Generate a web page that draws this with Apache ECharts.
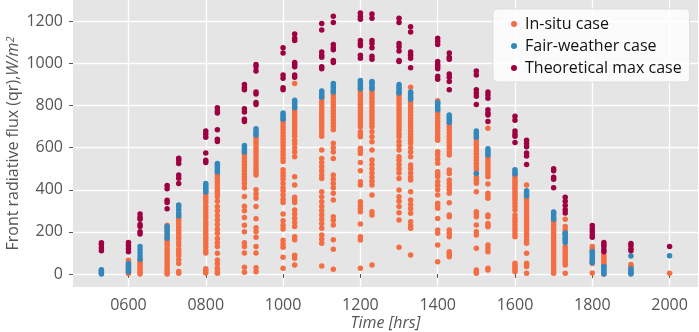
<!DOCTYPE html>
<html>
<head>
<meta charset="utf-8">
<script src="https://cdn.jsdelivr.net/npm/echarts@6/dist/echarts.min.js"></script>
<style>
  html, body { margin: 0; padding: 0; background: #fff; }
  #chart { width: 699px; height: 332px; }
</style>
</head>
<body>
<div id="chart"></div>
<script>
// measurement times (hhmm)
const times = [530, 600, 630, 700, 730, 800, 830, 900, 930, 1000, 1030, 1100, 1130, 1200, 1230,
  1300, 1330, 1400, 1430, 1500, 1530, 1600, 1630, 1700, 1730, 1800, 1830, 1900, 2000];

// one list of flux values (W/m2) per time
const inSitu = [
  [5, 15],
  [2, 10, 20, 30, 42, 55, 65],
  [0, 8, 18, 28, 38, 48, 58, 68],
  [0, 8, 18, 30, 42, 55, 68, 80, 95, 108, 120, 135, 148, 160, 175, 190, 205, 218, 232],
  [3, 12, 50, 68, 88, 102, 118, 138, 152, 168, 180, 195, 208, 222, 238, 252, 265, 280],
  [5, 15, 25, 100, 112, 128, 145, 160, 172, 188, 200, 215, 230, 245, 262, 275, 290, 305, 320, 338, 352, 365, 380, 392],
  [3, 15, 27, 48, 66, 98, 130, 148, 168, 193, 212, 235, 256, 278, 300, 320, 345, 367, 382, 395, 410, 425, 440, 455, 470, 482],
  [8, 32, 100, 130, 148, 200, 232, 268, 300, 322, 368, 410, 430, 447, 460, 475, 490, 505, 520, 535, 550, 565, 578],
  [10, 30, 100, 130, 175, 200, 220, 262, 320, 360, 380, 400, 470, 482, 495, 510, 525, 540, 555, 570, 585, 600, 615, 630, 645, 658],
  [27, 79, 127, 142, 160, 214, 232, 253, 285, 340, 355, 375, 395, 410, 430, 450, 465, 480, 495, 535, 550, 565, 580, 595, 610, 625, 640, 655, 670, 685, 700, 715, 730],
  [42, 75, 89, 162, 177, 225, 245, 265, 285, 304, 340, 350, 364, 423, 462, 557, 580, 600, 620, 636, 655, 670, 685, 700, 715, 730, 745, 760, 775, 790, 905],
  [38, 146, 165, 185, 217, 240, 260, 280, 300, 320, 343, 367, 391, 454, 470, 490, 510, 530, 549, 589, 655, 670, 685, 700, 715, 730, 745, 760, 775, 790, 805, 820, 838],
  [22, 117, 162, 233, 255, 272, 351, 383, 410, 430, 450, 470, 549, 580, 600, 621, 685, 700, 715, 730, 745, 760, 775, 790, 805, 820, 835, 850, 865],
  [27, 161, 177, 237, 296, 310, 325, 343, 423, 438, 491, 530, 573, 585, 597, 652, 664, 676, 700, 715, 730, 745, 760, 775, 790, 805, 820, 835, 850, 865, 880],
  [43, 280, 296, 375, 423, 440, 460, 480, 500, 520, 541, 589, 628, 652, 676, 700, 715, 730, 745, 760, 775, 790, 805, 820, 835, 850, 865, 880],
  [127, 256, 291, 320, 345, 367, 399, 454, 480, 500, 520, 540, 557, 589, 610, 630, 652, 668, 685, 700, 715, 730, 745, 760, 775, 790, 805, 820, 835, 850, 860],
  [90, 217, 230, 248, 288, 310, 330, 351, 391, 446, 460, 480, 500, 518, 557, 580, 600, 621, 636, 650, 665, 680, 695, 710, 725, 740, 755, 770, 785, 800, 815, 830, 887],
  [58, 138, 193, 209, 264, 312, 324, 336, 375, 400, 420, 438, 462, 474, 486, 526, 545, 565, 581, 636, 650, 665, 680, 695, 710, 725, 740, 755, 770, 780, 823],
  [82, 94, 106, 177, 193, 209, 272, 280, 339, 383, 400, 415, 430, 446, 478, 494, 565, 580, 595, 610, 625, 640, 655, 670, 685, 700, 715],
  [3, 10, 19, 122, 185, 201, 233, 272, 284, 296, 391, 431, 445, 460, 478, 495, 510, 525, 540, 555, 570, 585, 600, 615, 630, 645],
  [19, 27, 106, 122, 138, 224, 232, 240, 272, 280, 360, 372, 383, 427, 462, 475, 490, 505, 520, 535, 550, 562, 692],
  [11, 20, 30, 40, 51, 177, 190, 205, 220, 235, 250, 265, 280, 304, 320, 336, 351, 363, 375, 387, 400, 412, 424, 436, 448, 460, 472],
  [3, 35, 43, 51, 98, 146, 160, 174, 188, 202, 216, 230, 244, 258, 272, 286, 300, 314, 328, 342, 356, 368, 423],
  [3, 15, 28, 41, 54, 67, 80, 93, 106, 119, 132, 145, 158, 171, 184, 197, 210, 223, 236, 249, 258],
  [3, 43, 55, 68, 80, 92, 105, 118, 130, 195, 210, 225, 260],
  [5, 50, 60, 100, 110, 120, 130],
  [0, 40, 50, 60, 70, 80, 90],
  [10, 25, 35, 45],
  [3]
];

const fairWeather = [
  [0, 7, 14, 20],
  [10, 20, 30, 40, 50],
  [70, 85, 100, 115, 130],
  [170, 185, 200, 215, 225],
  [275, 290, 305, 320, 328],
  [390, 400, 410, 420, 430],
  [485, 495, 505, 515, 525],
  [580, 590, 600, 610],
  [660, 670, 680, 690],
  [735, 745, 755, 765],
  [790, 800, 810, 820, 825],
  [840, 850, 860, 870],
  [865, 875, 885, 895, 905],
  [880, 890, 900, 910, 920],
  [880, 890, 900, 910, 915],
  [860, 870, 880, 890, 900],
  [830, 840, 850, 860, 865],
  [780, 790, 800, 810, 815],
  [720, 730, 740, 750, 755],
  [478, 650, 660, 670, 680],
  [565, 575, 585, 595],
  [475, 485, 495],
  [370, 380, 390, 395],
  [260, 270, 280, 290, 295],
  [150, 160, 170, 180, 190, 195],
  [55, 65, 75, 85, 95, 105],
  [0, 10, 20, 30, 35],
  [0, 5, 15, 25, 85],
  [87]
];

const theoMax = [
  [110, 125, 140, 148],
  [105, 120, 135, 150],
  [190, 200, 225, 235, 260, 270, 285],
  [310, 340, 350, 405, 420],
  [430, 455, 470, 525, 540, 550],
  [530, 540, 575, 650, 665, 680],
  [630, 640, 685, 765, 775, 790],
  [725, 735, 770, 785, 875, 885, 900],
  [805, 815, 855, 865, 965, 985, 995],
  [875, 885, 930, 945, 1050, 1075],
  [935, 945, 985, 995, 1005, 1110, 1120, 1140],
  [975, 985, 1030, 1040, 1055, 1160, 1190],
  [1005, 1015, 1065, 1075, 1090, 1195, 1225],
  [1025, 1040, 1085, 1095, 1110, 1210, 1225, 1240],
  [1020, 1035, 1075, 1095, 1110, 1215, 1235],
  [1010, 1015, 1060, 1080, 1095, 1195, 1215],
  [980, 1025, 1040, 1055, 1150, 1175],
  [925, 940, 975, 985, 995, 1010, 1090, 1105, 1120],
  [875, 915, 935, 950, 1020, 1030, 1050],
  [805, 845, 860, 875, 945, 965],
  [725, 755, 765, 780, 835, 850, 865],
  [625, 655, 665, 680, 730, 750],
  [520, 560, 575, 605, 620, 635],
  [410, 450, 460, 490, 500],
  [290, 305, 325, 345, 365],
  [175, 185, 200, 215, 230],
  [105, 115, 130, 140, 150],
  [110, 120, 135, 145],
  [130]
];

const xTicks = [600, 800, 1000, 1200, 1400, 1600, 1800, 2000];
const yTicks = [0, 200, 400, 600, 800, 1000, 1200];

const toPoints = (lists) => times.flatMap((t, i) => lists[i].map((v) => [t, v]));

const font = "'Open Sans', 'Noto Sans', sans-serif";
const chart = echarts.init(document.getElementById("chart"));

const scatter = (name, lists, color) => ({
  name,
  type: "scatter",
  data: toPoints(lists),
  symbolSize: 5.5,
  itemStyle: { color, opacity: 1 },
  emphasis: { disabled: true },
});

chart.setOption({
  animation: false,
  textStyle: { fontFamily: font },
  grid: {
    left: 73, right: 1, top: 0, bottom: 45,
    outerBoundsMode: "none",
    show: true, backgroundColor: "#E5E5E5", borderWidth: 0,
  },
  legend: {
    orient: "vertical",
    left: 493, top: 9,
    padding: [7, 8, 6, 18],
    itemGap: 6,
    itemWidth: 6, itemHeight: 6,
    icon: "circle",
    backgroundColor: "rgba(255,255,255,0.85)",
    borderColor: "#dddddd", borderWidth: 1, borderRadius: 4,
    textStyle: { fontFamily: font, fontSize: 16, color: "#111", padding: [0, 0, 0, 3] },
    data: ["In-situ case", "Fair-weather case", "Theoretical max case"],
  },
  xAxis: {
    type: "value",
    min: 456.5, max: 2073.5,
    name: "Time [hrs]",
    nameLocation: "middle",
    nameGap: 28,
    nameMoveOverlap: false,
    nameTextStyle: { fontFamily: font, fontSize: 16, color: "#555", fontStyle: "italic" },
    axisLine: { show: false },
    axisTick: { show: true, length: 4, lineStyle: { color: "#555" }, customValues: xTicks },
    axisLabel: {
      customValues: xTicks, margin: 10,
      fontFamily: font, fontSize: 16, color: "#555",
      formatter: (v) => String(v).padStart(4, "0"),
    },
    splitLine: { show: true, lineStyle: { color: "#fff", width: 1.3 } },
  },
  yAxis: {
    type: "value",
    min: -62, max: 1302,
    name: "Front radiative flux (qr),{i|W/m}{s|2}",
    nameLocation: "middle",
    nameGap: 52,
    nameMoveOverlap: false,
    nameTextStyle: {
      fontFamily: font, fontSize: 16, color: "#555",
      rich: {
        i: { fontFamily: font, fontSize: 16, color: "#555", fontStyle: "italic" },
        s: { fontFamily: font, fontSize: 11, color: "#555", fontStyle: "italic", verticalAlign: "top" },
      },
    },
    axisLine: { show: false },
    axisTick: { show: true, length: 4, lineStyle: { color: "#555" }, customValues: yTicks },
    axisLabel: {
      customValues: yTicks, margin: 10,
      fontFamily: font, fontSize: 16, color: "#555",
      formatter: (v) => String(v),
    },
    splitLine: { show: true, lineStyle: { color: "#fff", width: 1.3 } },
  },
  series: [
    scatter("In-situ case", inSitu, "#F46D43"),
    scatter("Fair-weather case", fairWeather, "#3288BD"),
    scatter("Theoretical max case", theoMax, "#9E0142"),
  ],
});
</script>
</body>
</html>
